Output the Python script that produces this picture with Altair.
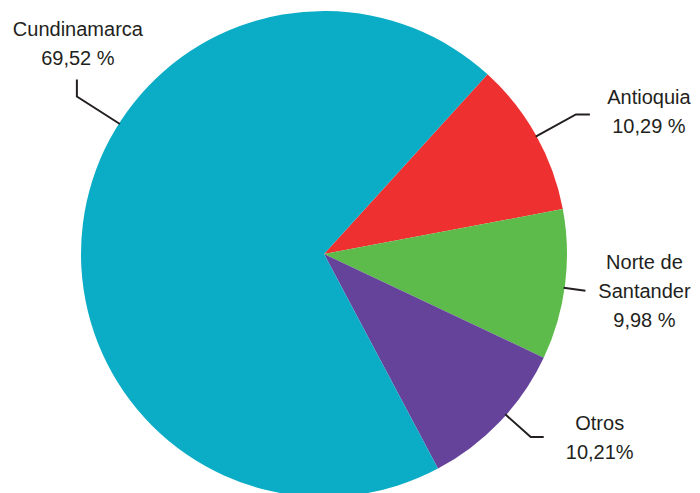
import math
import altair as alt
import pandas as pd

# ---- data ----
regions = ["Antioquia", "Norte de Santander", "Otros", "Cundinamarca"]
values = [10.29, 9.98, 10.21, 69.52]
label_texts = ["Antioquia\n10,29 %", "Norte de\nSantander\n9,98 %", "Otros\n10,21%", "Cundinamarca\n69,52 %"]
colors = ["#ee3130", "#5dbb4b", "#65439a", "#0aadc5"]

# ---- layout ----
W, H = 684, 485
CX, CY, R = 316, 246, 243
START_DEG = 42.3
leader_angle = [61.0, 98.0, 131.5, 302.5]      # degrees clockwise from 12 o'clock
elbow_r = [288, 264, 276, 293]
tail_off = [(14, 0), (0, 0), (13, 0), (0, -17)]
text_off = [(59, -10), (59, -22), (56, -7), (1, -44)]

pie_df = pd.DataFrame({"region": regions, "value": values, "ord": list(range(len(regions)))})

line_rows, text_rows = [], []
for i, reg in enumerate(regions):
    a = math.radians(leader_angle[i])
    x0, y0 = CX + (R - 1) * math.sin(a), CY - (R - 1) * math.cos(a)
    x1, y1 = CX + elbow_r[i] * math.sin(a), CY - elbow_r[i] * math.cos(a)
    x2, y2 = x1 + tail_off[i][0], y1 + tail_off[i][1]
    for k, (px, py) in enumerate([(x0, y0), (x1, y1), (x2, y2)]):
        line_rows.append({"region": reg, "k": k, "px": px, "py": py})
    text_rows.append({"region": reg, "txt": label_texts[i],
                      "px": x2 + text_off[i][0], "py": y2 + text_off[i][1]})
line_df = pd.DataFrame(line_rows)
text_df = pd.DataFrame(text_rows)

start = math.radians(START_DEG)
pie = alt.Chart(pie_df).mark_arc(outerRadius=R, x=CX, y=CY, stroke=None).encode(
    theta=alt.Theta("value:Q", stack=True, scale=alt.Scale(range=[start, start + 2 * math.pi])),
    order=alt.Order("ord:Q"),
    color=alt.Color("region:N", scale=alt.Scale(domain=regions, range=colors), legend=None),
)

lines = alt.Chart(line_df).mark_line(color="#231f20", strokeWidth=2).encode(
    x=alt.X("px:Q", scale=None),
    y=alt.Y("py:Q", scale=None),
    detail="region:N",
    order="k:Q",
)

texts = alt.Chart(text_df).mark_text(
    font="Liberation Sans", fontSize=20, color="#231f20", align="center",
    baseline="alphabetic", lineBreak="\n", lineHeight=29,
).encode(
    x=alt.X("px:Q", scale=None),
    y=alt.Y("py:Q", scale=None),
    text="txt:N",
)

chart = alt.layer(pie, lines, texts).properties(
    width=W, height=H, autosize=alt.AutoSizeParams(type="none"), padding=0,
    background="white",
).configure_view(stroke=None)

chart.save("out.html", embed_options={"renderer": "svg", "actions": False})
